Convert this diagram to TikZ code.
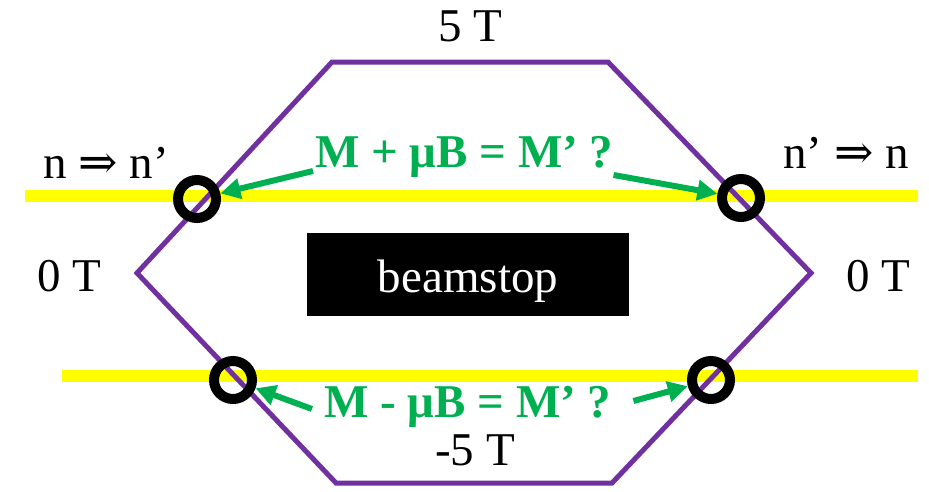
\documentclass[tikz,border=0pt]{standalone}
\usepackage{fontspec}
\setmainfont{Liberation Serif}
\newfontfamily\arrowfont{DejaVu Serif}
\usetikzlibrary{positioning, arrows.meta}
\definecolor{ringpurple}{RGB}{112,48,160}
\definecolor{beamyellow}{RGB}{255,255,0}
\definecolor{labelgreen}{RGB}{0,176,80}
\tikzset{
  beamline/.style={draw=beamyellow, line width=12pt},
  orbit/.style={draw=ringpurple, line width=5pt, line join=miter},
  crossring/.style={circle, draw=black, line width=10pt, minimum size=38pt, inner sep=0pt},
  fieldlabel/.style={font=\fontsize{47}{56}\selectfont, inner sep=0pt},
  masslabel/.style={font=\fontsize{47}{56}\selectfont\bfseries, text=labelgreen, inner sep=0pt},
  stopbox/.style={fill=black, text=white, minimum width=322pt, minimum height=83pt,
    text height=35pt, text depth=0pt, font=\fontsize{47}{56}\selectfont},
  pointer/.style={draw=labelgreen, line width=6pt, -{Triangle[length=20pt,width=20pt]}}
}
\begin{document}
\begin{tikzpicture}[x=1pt, y=-1pt]
  \useasboundingbox (0,0) rectangle (929,491);
  % beam lines
  \draw[beamline] (25,196) -- (918,196);
  \draw[beamline] (62,376) -- (918,376);
  % field path
  \draw[orbit] (137,273) -- (332,62) -- (608,62) -- (811,273) -- (612,483) -- (336,483) -- cycle;
  \node[stopbox] (beamstop) at (468,274.5) {beamstop};
  % crossing points
  \node[crossring] (upleft) at (197,199) {};
  \node[crossring] (upright) at (741,198) {};
  \node[crossring] (lowleft) at (233,380) {};
  \node[crossring] (lowright) at (711,380) {};
  % field values
  \node[fieldlabel, anchor=base] (topfield) at (470,41) {5 T};
  \node[fieldlabel, anchor=base] (botfield) at (475,465) {-5 T};
  \node[fieldlabel, anchor=base west] (leftzero) at (37,291) {0 T};
  \node[fieldlabel, anchor=base west] (rightzero) at (846,291) {0 T};
  \node[fieldlabel, anchor=base west] (inflow) at (43,178) {n {\arrowfont ⇒} n’};
  \node[fieldlabel, anchor=base west] (outflow) at (783,168) {n’ {\arrowfont ⇒} n};
  % mass conditions
  \node[masslabel, anchor=base west] (pluslabel) at (315,167) {M + μB = M’ ?};
  \node[masslabel, anchor=base west] (minuslabel) at (324,417) {M - μB = M’ ?};
  \draw[pointer] ([shift={(-2,4)}]pluslabel.base west) -- (upleft);
  \draw[pointer] ([shift={(0,8)}]pluslabel.base east) -- (upright);
  \draw[pointer] ([shift={(-12,-8)}]minuslabel.base west) -- (lowleft);
  \draw[pointer] ([shift={(22,-16)}]minuslabel.base east) -- (lowright);
\end{tikzpicture}
\end{document}
